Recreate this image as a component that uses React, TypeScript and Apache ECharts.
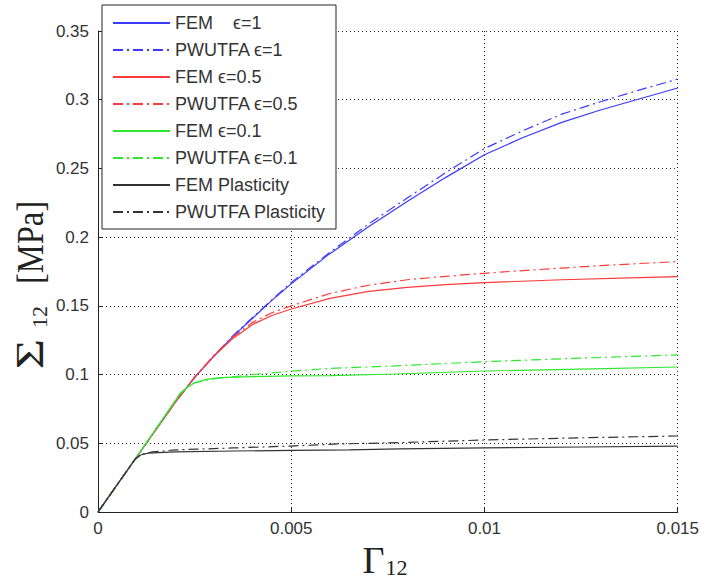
import React, { useEffect, useRef } from "react";
import * as echarts from "echarts";

// ---- data (strain Γ12, stress Σ12 [MPa]) ----
const femEps1: [number, number][] = [
  [0, 0], [0.001, 0.04], [0.002, 0.08], [0.0025, 0.098], [0.003, 0.1135], [0.0035, 0.128],
  [0.004, 0.141], [0.0045, 0.154], [0.005, 0.166], [0.006, 0.188], [0.007, 0.2075],
  [0.008, 0.226], [0.009, 0.2435], [0.01, 0.26], [0.011, 0.2725], [0.012, 0.2835],
  [0.013, 0.2925], [0.014, 0.3005], [0.015, 0.3085],
];
const pwutfaEps1: [number, number][] = [
  [0, 0], [0.001, 0.04], [0.002, 0.08], [0.0025, 0.098], [0.003, 0.1135], [0.0035, 0.1285],
  [0.004, 0.1415], [0.0045, 0.1545], [0.005, 0.167], [0.006, 0.189], [0.007, 0.2095],
  [0.008, 0.2285], [0.009, 0.247], [0.01, 0.2645], [0.011, 0.2775], [0.012, 0.2895],
  [0.013, 0.2985], [0.014, 0.307], [0.015, 0.315],
];
const femEps05: [number, number][] = [
  [0, 0], [0.001, 0.04], [0.002, 0.08], [0.0025, 0.098], [0.003, 0.1135], [0.0035, 0.1265],
  [0.004, 0.1365], [0.0045, 0.143], [0.005, 0.1477], [0.006, 0.1555], [0.007, 0.1605],
  [0.008, 0.1635], [0.009, 0.1655], [0.01, 0.1669], [0.012, 0.169], [0.014, 0.1705],
  [0.015, 0.1713],
];
const pwutfaEps05: [number, number][] = [
  [0, 0], [0.001, 0.04], [0.002, 0.08], [0.0025, 0.098], [0.003, 0.114], [0.0035, 0.1275],
  [0.004, 0.138], [0.0045, 0.145], [0.005, 0.15], [0.006, 0.159], [0.007, 0.165],
  [0.008, 0.169], [0.009, 0.1715], [0.01, 0.1737], [0.011, 0.1757], [0.012, 0.1775],
  [0.013, 0.1793], [0.014, 0.1808], [0.015, 0.1822],
];
const femEps01: [number, number][] = [
  [0, 0], [0.001, 0.04], [0.002, 0.081], [0.0021, 0.085], [0.0023, 0.0905], [0.0025, 0.094],
  [0.0028, 0.0965], [0.0032, 0.0978], [0.004, 0.0985], [0.005, 0.099], [0.006, 0.0993],
  [0.0077, 0.1004], [0.01, 0.1026], [0.0125, 0.104], [0.015, 0.1055],
];
const pwutfaEps01: [number, number][] = [
  [0, 0], [0.001, 0.04], [0.002, 0.081], [0.0021, 0.0855], [0.0023, 0.091], [0.0025, 0.094],
  [0.003, 0.097], [0.004, 0.1], [0.005, 0.1025], [0.006, 0.1045], [0.0077, 0.1063],
  [0.01, 0.1094], [0.0125, 0.112], [0.015, 0.1143],
];
const femPlast: [number, number][] = [
  [0, 0], [0.00095, 0.038], [0.0011, 0.0415], [0.0013, 0.0428], [0.002, 0.0437],
  [0.0035, 0.0444], [0.005, 0.0448], [0.0065, 0.0452], [0.0078, 0.0459], [0.01, 0.0466],
  [0.0125, 0.0473], [0.015, 0.048],
];
const pwutfaPlast: [number, number][] = [
  [0, 0], [0.00095, 0.038], [0.0011, 0.0418], [0.0014, 0.0437], [0.002, 0.0452],
  [0.0035, 0.0466], [0.005, 0.048], [0.0062, 0.0495], [0.0078, 0.0505], [0.01, 0.0524],
  [0.0125, 0.054], [0.015, 0.0553],
];

const seriesNames = [
  "FEM    \u03F5=1",
  "PWUTFA \u03F5=1",
  "FEM \u03F5=0.5",
  "PWUTFA \u03F5=0.5",
  "FEM \u03F5=0.1",
  "PWUTFA \u03F5=0.1",
  "FEM Plasticity",
  "PWUTFA Plasticity",
];
const seriesData = [femEps1, pwutfaEps1, femEps05, pwutfaEps05, femEps01, pwutfaEps01, femPlast, pwutfaPlast];
const seriesColors = ["#3a3aff", "#3a3aff", "#ff3a3a", "#ff3a3a", "#2ee82e", "#2ee82e", "#333333", "#333333"];
const seriesDashed = [false, true, false, true, false, true, false, true];

const xTicks = { min: 0, max: 0.015, interval: 0.005 };
const yTicks = { min: 0, max: 0.35, interval: 0.05 };

const DASHDOT = [10, 4, 2, 4];

export default function App() {
  const ref = useRef<HTMLDivElement>(null);
  useEffect(() => {
    if (!ref.current) return;
    const chart = echarts.init(ref.current, undefined, { renderer: "svg" });
    const serif = "Liberation Serif";
    const sans = "Liberation Sans";
    const fmt = (v: number) => String(+v.toFixed(4));
    chart.setOption({
      animation: false,
      backgroundColor: "#ffffff",
      grid: { left: 98, top: 31, width: 582, height: 481, containLabel: false },
      legend: {
        orient: "vertical",
        left: 102,
        top: 5,
        data: seriesNames,
        itemWidth: 57,
        itemHeight: 14,
        itemGap: 9,
        padding: [9, 10, 8, 10],
        backgroundColor: "#ffffff",
        borderColor: "#222",
        borderWidth: 1,
        borderRadius: 0,
        itemStyle: { opacity: 0 },
        textStyle: { fontFamily: sans, fontSize: 18, color: "#333" },
        selectedMode: false,
      },
      xAxis: {
        type: "value",
        min: xTicks.min,
        max: xTicks.max,
        interval: xTicks.interval,
        axisLine: { show: true, onZero: false, lineStyle: { color: "#222", width: 1 } },
        axisTick: { show: true, inside: true, length: 5, lineStyle: { color: "#222" } },
        axisLabel: { fontFamily: sans, fontSize: 17, color: "#333", margin: 8, formatter: fmt },
        splitLine: { show: true, lineStyle: { color: "#222", type: [1, 3], width: 1 } },
      },
      yAxis: {
        type: "value",
        min: yTicks.min,
        max: yTicks.max,
        interval: yTicks.interval,
        axisLine: { show: true, onZero: false, lineStyle: { color: "#222", width: 1 } },
        axisTick: { show: true, inside: true, length: 5, lineStyle: { color: "#222" } },
        axisLabel: { fontFamily: sans, fontSize: 17, color: "#333", margin: 9, formatter: fmt },
        splitLine: { show: true, lineStyle: { color: "#222", type: [1, 3], width: 1 } },
      },
      series: seriesNames.map((name, i) => ({
        name,
        type: "line",
        data: seriesData[i],
        symbol: "none",
        showSymbol: false,
        smooth: false,
        color: seriesColors[i],
        lineStyle: { color: seriesColors[i], width: 1.2, type: seriesDashed[i] ? DASHDOT : "solid" },
        emphasis: { disabled: true },
      })),
      graphic: [
        {
          type: "text",
          x: 29.5,
          y: 354,
          rotation: Math.PI / 2,
          scaleX: 1.3,
          style: { text: "\u03A3", fontFamily: serif, fontSize: 40, fill: "#222", align: "center", verticalAlign: "middle" },
        },
        {
          type: "text",
          x: 39,
          y: 317,
          rotation: Math.PI / 2,
          style: { text: "12", fontFamily: serif, fontSize: 22, fill: "#222", align: "center", verticalAlign: "middle" },
        },
        {
          type: "text",
          x: 30.5,
          y: 242.5,
          rotation: Math.PI / 2,
          scaleX: 0.88,
          style: { text: "[MPa]", fontFamily: serif, fontSize: 37, fill: "#222", align: "center", verticalAlign: "middle" },
        },
        {
          type: "text",
          x: 373.5,
          y: 559.5,
          style: { text: "\u0393", fontFamily: serif, fontSize: 38, fill: "#222", align: "center", verticalAlign: "middle" },
        },
        {
          type: "text",
          x: 396.5,
          y: 567,
          style: { text: "12", fontFamily: serif, fontSize: 22, fill: "#222", align: "center", verticalAlign: "middle" },
        },
      ],
    });
    return () => chart.dispose();
  }, []);
  return (
    <div
      ref={ref}
      style={{ position: "fixed", left: 0, top: 0, width: 702, height: 579, background: "#fff" }}
    />
  );
}
